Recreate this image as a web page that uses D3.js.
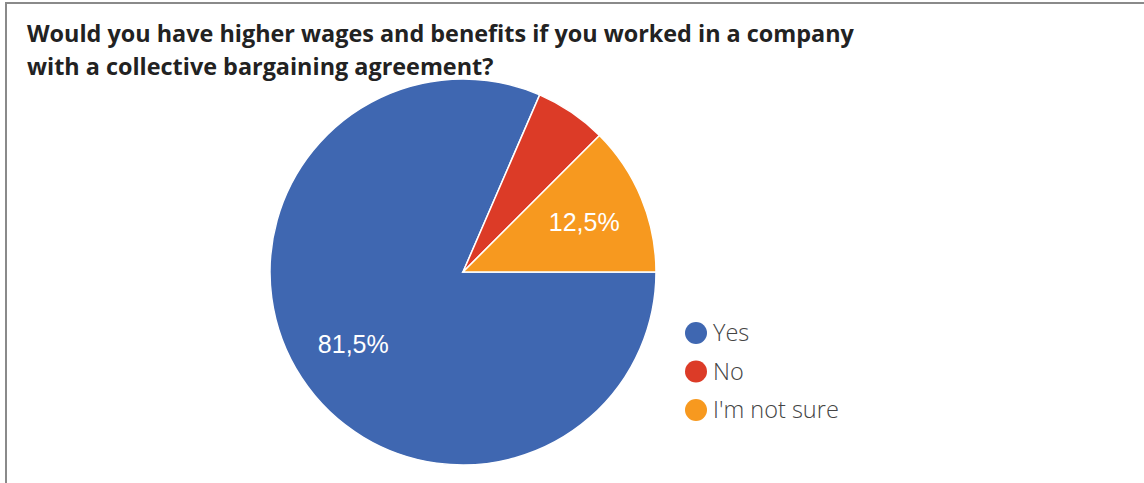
<!DOCTYPE html>
<html>
<head>
<meta charset="utf-8">
<script src="https://cdn.jsdelivr.net/npm/d3@7"></script>
<style>
  html, body { margin: 0; padding: 0; background: #fff; }
  svg { display: block; }
</style>
</head>
<body>
<svg id="chart" width="1144" height="483"></svg>
<script>
// Survey answers and their shares (percent)
const categories = ["Yes", "No", "I'm not sure"];
const shares = [81.5, 6.0, 12.5];
const labels = ["81,5%", "", "12,5%"];
const colors = ["#3f67b1", "#dc3b27", "#f7991f"];
const titleLines = [
  "Would you have higher wages and benefits if you worked in a company",
  "with a collective bargaining agreement?"
];

const W = 1144, H = 483;
const svg = d3.select("#chart");

// frame
svg.append("line").attr("x1", 5).attr("x2", W).attr("y1", 3).attr("y2", 3)
  .attr("stroke", "#8a8a8a").attr("stroke-width", 2);
svg.append("line").attr("x1", 6).attr("x2", 6).attr("y1", 2).attr("y2", H)
  .attr("stroke", "#8a8a8a").attr("stroke-width", 2);

// title
const title = svg.append("text")
  .attr("font-family", "'Open Sans', Lato, sans-serif")
  .attr("font-weight", 700)
  .attr("font-size", 23.4)
  .attr("fill", "#222");
titleLines.forEach((t, i) => {
  title.append("tspan").attr("x", 27).attr("y", 42 + i * 33).text(t);
});

// pie
const cx = 463, cy = 272, R = 193;
const pie = d3.pie().sort(null).value(d => d)
  .startAngle(Math.PI / 2).endAngle(Math.PI / 2 + 2 * Math.PI);
const arcs = pie(shares);
const arc = d3.arc().innerRadius(0).outerRadius(R);
const labelArc = d3.arc().innerRadius(R * 0.68).outerRadius(R * 0.68);

const g = svg.append("g").attr("transform", `translate(${cx},${cy})`);
g.selectAll("path.slice").data(arcs).join("path")
  .attr("class", "slice")
  .attr("d", arc)
  .attr("fill", (d, i) => colors[i])
  .attr("stroke", "#fff")
  .attr("stroke-width", 1.5);

g.selectAll("text.val").data(arcs).join("text")
  .attr("class", "val")
  .attr("transform", d => `translate(${labelArc.centroid(d)})`)
  .attr("text-anchor", "middle")
  .attr("dy", "0.36em")
  .attr("font-family", "Arial, 'Liberation Sans', sans-serif")
  .attr("font-size", 25)
  .attr("fill", "#fff")
  .text((d, i) => labels[i]);

// legend
const legend = svg.append("g").attr("transform", "translate(696,333)");
const item = legend.selectAll("g").data(categories).join("g")
  .attr("transform", (d, i) => `translate(0,${i * 38.5})`);
item.append("circle").attr("r", 11).attr("fill", (d, i) => colors[i]);
item.append("text")
  .attr("x", 17).attr("dy", "0.36em")
  .attr("font-family", "'Open Sans', Lato, sans-serif")
  .attr("font-weight", 300)
  .attr("font-size", 23.5)
  .attr("fill", "#444")
  .text(d => d);
</script>
</body>
</html>
